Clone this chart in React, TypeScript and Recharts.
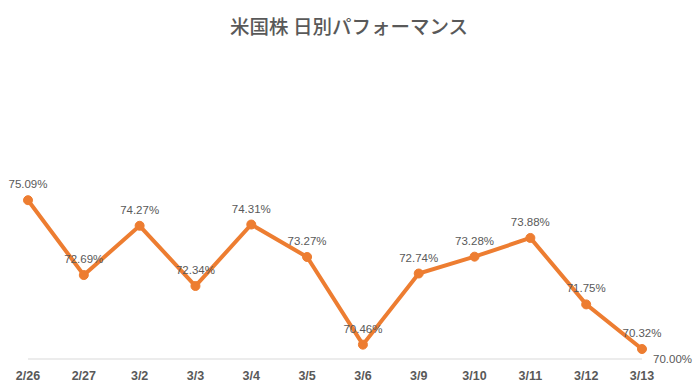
import { LineChart, Line, XAxis, YAxis, LabelList } from 'recharts';

const dates = ['2/26', '2/27', '3/2', '3/3', '3/4', '3/5', '3/6', '3/9', '3/10', '3/11', '3/12', '3/13'];
const performance = [75.09, 72.69, 74.27, 72.34, 74.31, 73.27, 70.46, 72.74, 73.28, 73.88, 71.75, 70.32];
const yTicks = [70];

const data = dates.map((date, i) => ({ date, value: performance[i] }));

const ORANGE = '#ed7d31';
const TEXT = '#595959';
const FONT = '"Liberation Sans", "Noto Sans CJK JP", sans-serif';

const App = () => {
  return (
    <div style={{ position: 'fixed', left: 0, top: 0, width: 698, height: 392, background: '#fff' }}>
      <div
        style={{
          position: 'absolute',
          top: 14,
          width: 698,
          textAlign: 'center',
          fontFamily: '"Noto Sans CJK JP", sans-serif',
          fontSize: 19.5,
          fontWeight: 500,
          color: TEXT,
          lineHeight: '24px'
        }}
      >
        米国株 日別パフォーマンス
      </div>
      <LineChart
        width={698}
        height={392}
        data={data}
        margin={{ top: 47, right: 0, left: 28, bottom: 0 }}
        style={{ fontFamily: FONT }}
      >
        <XAxis
          dataKey="date"
          axisLine={{ stroke: '#d9d9d9', strokeWidth: 1 }}
          tickLine={false}
          tickMargin={6}
          height={33}
          interval={0}
          tick={{ fill: TEXT, fontSize: 12.5, fontWeight: 'bold' }}
        />
        <YAxis
          orientation="right"
          domain={[70, 80]}
          ticks={yTicks}
          width={56}
          axisLine={false}
          tickLine={false}
          tickMargin={5}
          tick={{ fill: TEXT, fontSize: 11.5 }}
          tickFormatter={(v: number) => `${v.toFixed(2)}%`}
        />
        <Line
          type="linear"
          dataKey="value"
          stroke={ORANGE}
          strokeWidth={4}
          dot={{ r: 4.5, fill: ORANGE, stroke: ORANGE, strokeWidth: 1 }}
          isAnimationActive={false}
        >
          <LabelList
            dataKey="value"
            position="top"
            offset={12}
            fill={TEXT}
            fontSize={11.5}
            formatter={(v: number) => `${v.toFixed(2)}%`}
          />
        </Line>
      </LineChart>
    </div>
  );
};

export default App;
